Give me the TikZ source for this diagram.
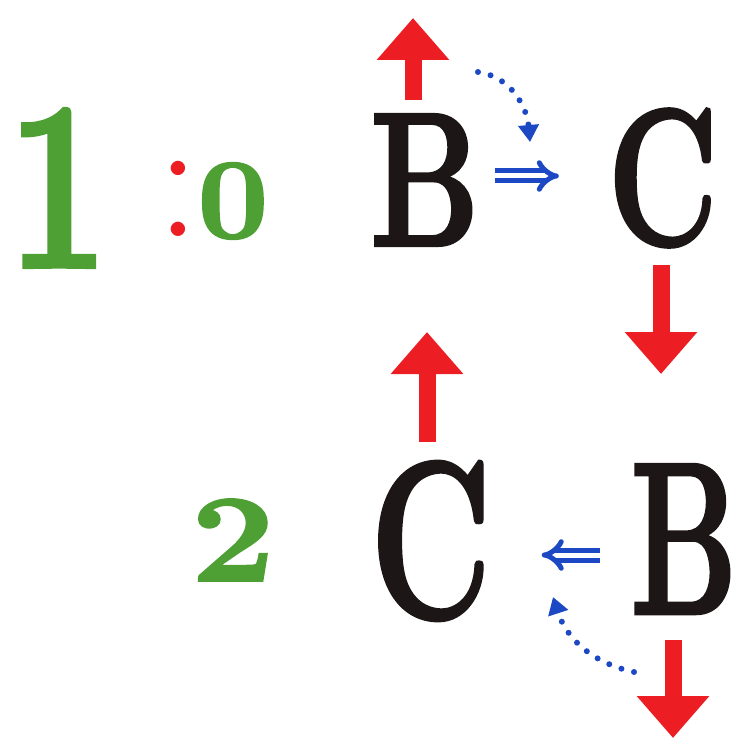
\documentclass[tikz,border=0pt]{standalone}
\usepackage{fontspec}
\usepackage{graphicx}
\newfontfamily\brush[FakeBold=2]{Latin Modern Roman}
\usetikzlibrary{arrows.meta}
\definecolor{inkred}{RGB}{236,30,36}
\definecolor{inkgreen}{RGB}{78,160,52}
\definecolor{inkblue}{RGB}{28,72,196}
\definecolor{inkblack}{RGB}{28,22,22}
\newcommand{\glyphbox}[3]{\scalebox{#1}[1]{\fontsize{#2}{#2}\selectfont #3}}
\tikzset{
  letter/.style={inner sep=0pt, outer sep=0pt, text=inkblack, font=\brush\bfseries},
  digit/.style={inner sep=0pt, outer sep=0pt, text=inkgreen, font=\brush\bfseries},
  redarrow/.style={draw=inkred, line width=17pt, -{Triangle[width=70pt,length=42pt]}},
  bluedouble/.style={draw=inkblue, line width=5pt, double, double distance=5pt, -{Implies}},
  bluedots/.style={draw=inkblue, line width=6pt, line cap=round, dash pattern=on 0pt off 13pt,
                   -{Triangle[width=20pt,length=17pt]}}
}
\begin{document}
\begin{tikzpicture}[x=1pt,y=-1pt]
\path[use as bounding box] (0,0) rectangle (751,743);

% score
\node[digit] (one) at (58,188) {\glyphbox{0.75}{240}{1}};
\node[inner sep=0pt, text=inkred] (colon) at (178,199) {\glyphbox{1}{175}{:}};
\node[digit] (zero) at (233,201) {\glyphbox{1.1}{114}{0}};
\node[digit] (two) at (233,540) {\glyphbox{1.2}{124}{2}};

% letters
\node[letter] (B1) at (425,180) {\glyphbox{0.72}{190}{B}};
\node[letter] (C1) at (663,178) {\glyphbox{0.70}{194}{C}};
\node[letter] (C2) at (431,541) {\glyphbox{0.67}{223}{C}};
\node[letter] (B2) at (684,539) {\glyphbox{0.62}{216}{B}};

% red arrows
\coordinate (r1s) at (413,100); \coordinate (r1e) at (413,18);
\coordinate (r2s) at (661,265); \coordinate (r2e) at (661,374);
\coordinate (r3s) at (427,442); \coordinate (r3e) at (427,332);
\coordinate (r4s) at (673,640); \coordinate (r4e) at (673,738);
\draw[redarrow] (r1s) -- (r1e);
\draw[redarrow] (r2s) -- (r2e);
\draw[redarrow] (r3s) -- (r3e);
\draw[redarrow] (r4s) -- (r4e);

% blue double arrows
\draw[bluedouble, shorten <=15pt, shorten >=49pt] ([yshift=4pt]B1.east) -- ([yshift=2pt]C1.west);
\draw[bluedouble, shorten <=30pt, shorten >=50pt] ([yshift=-16pt]B2.west) -- ([yshift=-14pt]C2.east);

% blue dotted arcs
\coordinate (d1s) at (478,72); \coordinate (d1e) at (530,142);
\coordinate (d2s) at (634,672); \coordinate (d2e) at (553,597);
\draw[bluedots] (d1s) to[out=-8,in=95] (d1e);
\draw[bluedots] (d2s) to[out=168,in=-72] (d2e);
\end{tikzpicture}
\end{document}
